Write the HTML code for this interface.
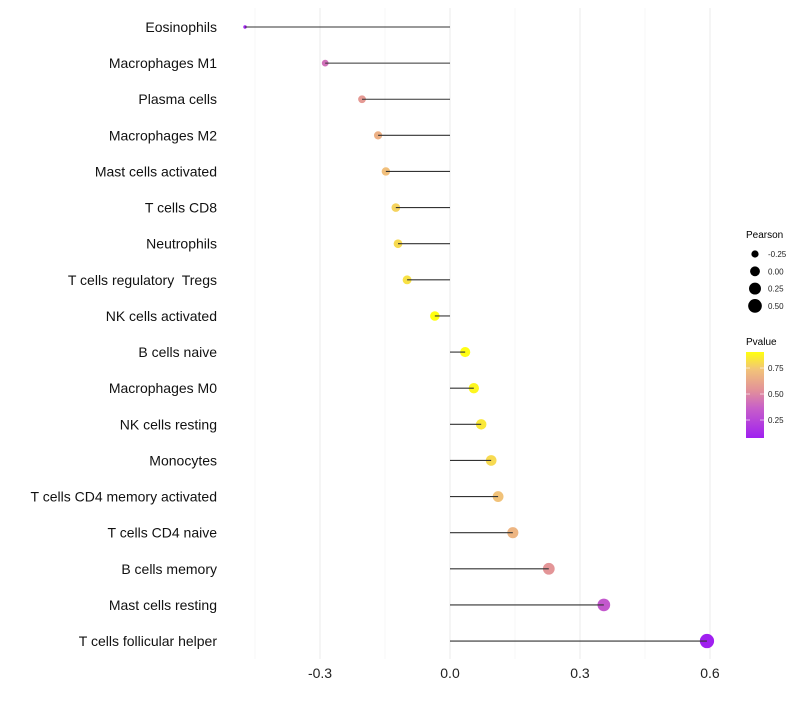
<!DOCTYPE html>
<html><head><meta charset="utf-8"><style>
body{margin:0;background:#fff;font-family:"Liberation Sans",sans-serif}
svg text{font-family:"Liberation Sans",sans-serif;white-space:pre}
</style></head><body>
<svg id="chart" width="800" height="700">
<g id="grid"></g>
<g id="marks"></g>
<g id="ylab"></g>
<g id="xlab"></g>
<g id="legend">
<text x="746" y="238" font-size="10" fill="#000">Pearson</text>
<defs><linearGradient id="pg" x1="0" y1="1" x2="0" y2="0">
<stop offset="0" stop-color="#A020F0"/><stop offset="0.35" stop-color="#C860C8"/><stop offset="0.55" stop-color="#E2909A"/><stop offset="0.8" stop-color="#F2C478"/><stop offset="1" stop-color="#FFFF10"/></linearGradient></defs>
<text x="746" y="345" font-size="10" fill="#000">Pvalue</text>
<rect x="746" y="352" width="18" height="86" fill="url(#pg)"/>
</g>
</svg>
<script>
const categories=["Eosinophils","Macrophages M1","Plasma cells","Macrophages M2","Mast cells activated","T cells CD8","Neutrophils","T cells regulatory  Tregs","NK cells activated","B cells naive","Macrophages M0","NK cells resting","Monocytes","T cells CD4 memory activated","T cells CD4 naive","B cells memory","Mast cells resting","T cells follicular helper"];
const pearson=[-0.473,-0.288,-0.203,-0.166,-0.148,-0.125,-0.12,-0.099,-0.035,0.035,0.055,0.072,0.095,0.111,0.145,0.228,0.355,0.593];
const pvalue=[0.08,0.42,0.57,0.66,0.72,0.78,0.8,0.82,0.92,0.9,0.88,0.84,0.8,0.73,0.68,0.55,0.33,0.06];
const xTicks=[-0.3,0,0.3,0.6];
const xTickLabels=["-0.3","0.0","0.3","0.6"];
const xMinor=[-0.45,-0.15,0.15,0.45];
const sizeLegendVals=[-0.25,0,0.25,0.5];
const sizeLegendLabels=["-0.25","0.00","0.25","0.50"];
const colorLegendVals=[0.25,0.5,0.75];
const colorLegendLabels=["0.25","0.50","0.75"];

const NS="http://www.w3.org/2000/svg";
const X=v=>450+v*433.33;
const Y=i=>27+i*36.12;
const R=v=>Math.sqrt(Math.max(1,3+45*(v+0.473)));
const stops=[[0,[160,32,240]],[0.35,[200,96,200]],[0.55,[226,144,154]],[0.8,[242,196,120]],[1,[255,255,16]]];
function col(p){let t=(p-0.077)/(0.904-0.077);t=Math.max(0,Math.min(1,t));
for(let k=1;k<stops.length;k++){if(t<=stops[k][0]){const a=stops[k-1],b=stops[k];const f=(t-a[0])/(b[0]-a[0]);
return "rgb("+a[1].map((c,j)=>Math.round(c+(b[1][j]-c)*f)).join(",")+")";}}return "rgb(255,255,16)";}
function mk(tag,attrs,parent){const e=document.createElementNS(NS,tag);for(const k in attrs)e.setAttribute(k,attrs[k]);parent.appendChild(e);return e;}
const grid=document.getElementById('grid'),marks=document.getElementById('marks'),ylab=document.getElementById('ylab'),xlab=document.getElementById('xlab'),leg=document.getElementById('legend');
xMinor.forEach(v=>{const l=mk('line',{x1:X(v),x2:X(v),y1:8,y2:659,stroke:'#f2f2f2','stroke-width':0.6},grid);

});
xTicks.forEach((v,i)=>{const l=mk('line',{x1:X(v),x2:X(v),y1:8,y2:659,stroke:'#ebebeb','stroke-width':1},grid);


const t=mk('text',{x:X(v),y:678,'font-size':14,fill:'#222','text-anchor':'middle'},xlab);t.textContent=xTickLabels[i];

});
categories.forEach((c,i)=>{const y=Y(i);
const t=mk('text',{x:217,y:y+5,'font-size':14,fill:'#111','text-anchor':'end'},ylab);t.textContent=c;


const p=mk('circle',{cx:X(pearson[i]),cy:y,r:R(pearson[i]),fill:col(pvalue[i])},marks);


const l=mk('line',{x1:X(0),x2:X(pearson[i]),y1:y,y2:y,stroke:'#333','stroke-width':1.1},marks);

});
sizeLegendVals.forEach((v,i)=>{const y=254+i*17.3;
const c=mk('circle',{cx:755,cy:y,r:R(v),fill:'#000'},leg);


const t=mk('text',{x:768,y:y+3,'font-size':8,fill:'#222'},leg);t.textContent=sizeLegendLabels[i];

});
colorLegendVals.forEach((v,i)=>{const y=438-(v-0.077)/(0.904-0.077)*86;
mk('line',{x1:746,x2:750,y1:y,y2:y,stroke:'#fff','stroke-width':0.6},leg);
mk('line',{x1:760,x2:764,y1:y,y2:y,stroke:'#fff','stroke-width':0.6},leg);
const t=mk('text',{x:768,y:y+3,'font-size':8,fill:'#222'},leg);t.textContent=colorLegendLabels[i];

});
</script>
</body></html>
